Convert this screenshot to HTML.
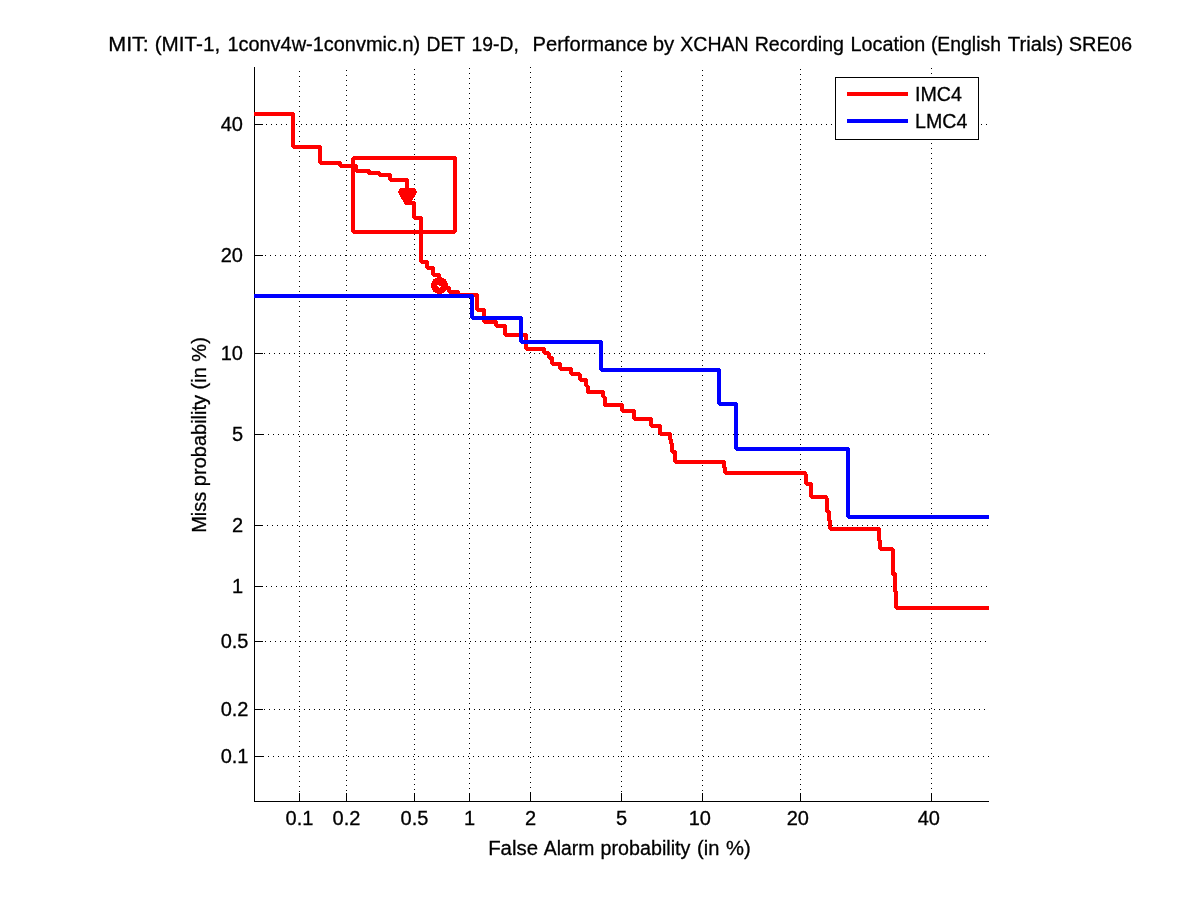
<!DOCTYPE html>
<html lang="en">
<head>
<meta charset="utf-8">
<title>DET 19-D</title>
<style>
html,body{margin:0;padding:0;background:#fff;}
body{width:1201px;height:900px;overflow:hidden;}
svg{display:block;}
text{font-family:"Liberation Sans",sans-serif;font-size:20px;fill:#000;stroke:#000;stroke-width:0.3px;}
.g{stroke:#000;stroke-width:1;stroke-dasharray:1 4;fill:none;}
.a{stroke:#000;stroke-width:1;fill:none;}
.r{stroke:#f00;stroke-width:4;fill:none;stroke-linejoin:bevel;}
.b{stroke:#00f;stroke-width:4;fill:none;stroke-linejoin:bevel;}
</style>
</head>
<body>
<svg width="1201" height="900" viewBox="0 0 1201 900">
<rect x="0" y="0" width="1201" height="900" fill="#fff"/>
<g shape-rendering="crispEdges">
<line class="g" x1="299.5" y1="71" x2="299.5" y2="801"/>
<line class="g" x1="346.5" y1="70" x2="346.5" y2="801"/>
<line class="g" x1="414.5" y1="69" x2="414.5" y2="801"/>
<line class="g" x1="469.5" y1="68" x2="469.5" y2="801"/>
<line class="g" x1="530.5" y1="67" x2="530.5" y2="801"/>
<line class="g" x1="621.5" y1="71" x2="621.5" y2="801"/>
<line class="g" x1="702.5" y1="70" x2="702.5" y2="801"/>
<line class="g" x1="800.5" y1="69" x2="800.5" y2="801"/>
<line class="g" x1="931.5" y1="68" x2="931.5" y2="801"/>
<line class="g" x1="258" y1="756.5" x2="989" y2="756.5"/>
<line class="g" x1="259" y1="709.5" x2="989" y2="709.5"/>
<line class="g" x1="255" y1="641.5" x2="989" y2="641.5"/>
<line class="g" x1="256" y1="586.5" x2="989" y2="586.5"/>
<line class="g" x1="257" y1="525.5" x2="989" y2="525.5"/>
<line class="g" x1="258" y1="434.5" x2="989" y2="434.5"/>
<line class="g" x1="259" y1="353.5" x2="989" y2="353.5"/>
<line class="g" x1="255" y1="255.5" x2="989" y2="255.5"/>
<line class="g" x1="256" y1="124.5" x2="989" y2="124.5"/>
<line class="a" x1="254.5" y1="67" x2="254.5" y2="802"/>
<line class="a" x1="254" y1="801.5" x2="989" y2="801.5"/>
<line class="a" x1="299.5" y1="793" x2="299.5" y2="801"/>
<line class="a" x1="346.5" y1="793" x2="346.5" y2="801"/>
<line class="a" x1="414.5" y1="793" x2="414.5" y2="801"/>
<line class="a" x1="469.5" y1="793" x2="469.5" y2="801"/>
<line class="a" x1="530.5" y1="793" x2="530.5" y2="801"/>
<line class="a" x1="621.5" y1="793" x2="621.5" y2="801"/>
<line class="a" x1="702.5" y1="793" x2="702.5" y2="801"/>
<line class="a" x1="800.5" y1="793" x2="800.5" y2="801"/>
<line class="a" x1="931.5" y1="793" x2="931.5" y2="801"/>
<line class="a" x1="255" y1="756.5" x2="263" y2="756.5"/>
<line class="a" x1="255" y1="709.5" x2="263" y2="709.5"/>
<line class="a" x1="255" y1="641.5" x2="263" y2="641.5"/>
<line class="a" x1="255" y1="586.5" x2="263" y2="586.5"/>
<line class="a" x1="255" y1="525.5" x2="263" y2="525.5"/>
<line class="a" x1="255" y1="434.5" x2="263" y2="434.5"/>
<line class="a" x1="255" y1="353.5" x2="263" y2="353.5"/>
<line class="a" x1="255" y1="255.5" x2="263" y2="255.5"/>
<line class="a" x1="255" y1="124.5" x2="263" y2="124.5"/>
<path class="r" d="M254,114 H293 V147 H320 V163 H340 V166 H356 V170.5 H368.5 V173 H379.5 V175 H390 V180 H407 V203 H414 V218 H421 V261.5 H427 V267.5 H433 V275 H439 V283.75 H445 V288 H449 V292 H458 V294.5 H477 V310 H484 V321.5 H496 V325.5 H505 V335 H526 V348.5 H544 V353 H548.5 V357.5 H552 V364 H560 V369 H571 V374 H579.5 V379.5 H586 V386 H587.5 V392 H603 V397 H604.7 V405 H622 V411 H634 V419 H651 V426 H660 V434 H670 V439.5 H671 V443.5 H672 V452 H675 V461.7 H724 V468 H725 V473 H805 V475 H806 V483.6 H811 V497 H826 V499 H827 V512 H829 V521 H830 V528.7 H879 V541 H880 V548.7 H892.5 V574 H895 V592 H896 V608 H989"/>
<path class="b" d="M254,296 H472 V318 H521 V342 H601 V370 H719 V404 H736 V449 H848 V517 H989"/>
<rect class="r" x="353" y="158" width="102" height="73.5"/>
<path d="M400,188 H415 L417,192.5 L410,204.5 H405 L398,192.5 Z" fill="#f00" stroke="none"/>
<circle cx="439.5" cy="285.5" r="5.4" fill="none" stroke="#f00" stroke-width="6.2"/>
<rect x="835.5" y="77.5" width="143" height="62" fill="#fff" stroke="#000" stroke-width="1"/>
<line x1="847" y1="94" x2="908" y2="94" stroke="#f00" stroke-width="4"/>
<line x1="847" y1="121" x2="908" y2="121" stroke="#00f" stroke-width="4"/>
</g>
<text y="51" xml:space="preserve"><tspan x="108.22" textLength="40.62" lengthAdjust="spacingAndGlyphs">MIT:</tspan> <tspan x="154.65" textLength="65.51" lengthAdjust="spacingAndGlyphs">(MIT-1,</tspan> <tspan x="227.39" textLength="192.84" lengthAdjust="spacingAndGlyphs">1conv4w-1convmic.n)</tspan> <tspan x="426.55" textLength="38.18" lengthAdjust="spacingAndGlyphs">DET</tspan> <tspan x="471.60" textLength="47.20" lengthAdjust="spacingAndGlyphs">19-D,</tspan>  <tspan x="532.52" textLength="115.24" lengthAdjust="spacingAndGlyphs">Performance</tspan> <tspan x="652.78" textLength="21.52" lengthAdjust="spacingAndGlyphs">by</tspan> <tspan x="680.28" textLength="68.34" lengthAdjust="spacingAndGlyphs">XCHAN</tspan> <tspan x="754.68" textLength="89.28" lengthAdjust="spacingAndGlyphs">Recording</tspan> <tspan x="850.47" textLength="74.91" lengthAdjust="spacingAndGlyphs">Location</tspan> <tspan x="930.89" textLength="70.11" lengthAdjust="spacingAndGlyphs">(English</tspan> <tspan x="1007.76" textLength="55.57" lengthAdjust="spacingAndGlyphs">Trials)</tspan> <tspan x="1068.81" textLength="63.20" lengthAdjust="spacingAndGlyphs">SRE06</tspan></text>
<text x="299.5" y="825" text-anchor="middle">0.1</text>
<text x="346.5" y="825" text-anchor="middle">0.2</text>
<text x="414.5" y="825" text-anchor="middle">0.5</text>
<text x="469.5" y="825" text-anchor="middle">1</text>
<text x="530.5" y="825" text-anchor="middle">2</text>
<text x="621.5" y="825" text-anchor="middle">5</text>
<text x="699.75" y="825" text-anchor="middle">10</text>
<text x="797.75" y="825" text-anchor="middle">20</text>
<text x="928.75" y="825" text-anchor="middle">40</text>
<text x="248.5" y="763.0" text-anchor="end">0.1</text>
<text x="248.5" y="716.0" text-anchor="end">0.2</text>
<text x="248.5" y="648.0" text-anchor="end">0.5</text>
<text x="243" y="593.0" text-anchor="end">1</text>
<text x="243" y="532.0" text-anchor="end">2</text>
<text x="243" y="441.0" text-anchor="end">5</text>
<text x="243" y="360.0" text-anchor="end">10</text>
<text x="243" y="262.0" text-anchor="end">20</text>
<text x="243" y="131.0" text-anchor="end">40</text>
<text y="855" xml:space="preserve"><tspan x="488.16" textLength="49.82" lengthAdjust="spacingAndGlyphs">False</tspan> <tspan x="543.83" textLength="50.49" lengthAdjust="spacingAndGlyphs">Alarm</tspan> <tspan x="600.54" textLength="89.81" lengthAdjust="spacingAndGlyphs">probability</tspan> <tspan x="697.10" textLength="22.32" lengthAdjust="spacingAndGlyphs">(in</tspan> <tspan x="725.94" textLength="24.67" lengthAdjust="spacingAndGlyphs">%)</tspan></text>
<text transform="translate(206,435) rotate(-90)" text-anchor="middle">Miss probability (in %)</text>
<text x="915" y="101" textLength="47" lengthAdjust="spacingAndGlyphs">IMC4</text>
<text x="915" y="128" textLength="52.3" lengthAdjust="spacingAndGlyphs">LMC4</text>
</svg>
</body>
</html>
